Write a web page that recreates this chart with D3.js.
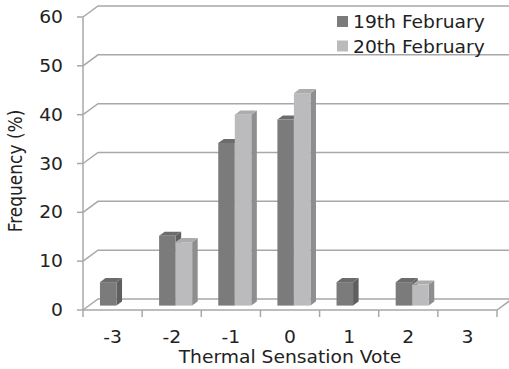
<!DOCTYPE html>
<html>
<head>
<meta charset="utf-8">
<script src="https://cdn.jsdelivr.net/npm/d3@7"></script>
<style>
  body { margin: 0; background: #fff; }
  text { font-family: "DejaVu Sans", Verdana, sans-serif; fill: #222; }
</style>
</head>
<body>
<div id="chart"></div>
<script>
var categories = ["-3", "-2", "-1", "0", "1", "2", "3"];
var seriesNames = ["19th February", "20th February"];
var feb19 = [4.8, 14.3, 33.3, 38.1, 4.8, 4.8, 0];
var feb20 = [0, 13.0, 39.1, 43.5, 0, 4.3, 0];
var yTicks = [0, 10, 20, 30, 40, 50, 60];

var width = 509,
    height = 369,
    depthX = 15,      // wall depth, projected
    depthY = 11,
    barZ0 = 0.4,      // bar front / back as share of the depth
    barZ1 = 0.77,
    stretch = 1.1;    // the picture's text is a bit wide

var colors = {
    "19th February": { front: "#7b7b7b", top: "#6c6c6c", side: "#5f5f5f" },
    "20th February": { front: "#bbbbbd", top: "#acacae", side: "#8e8e90" }
};

var svg = d3.select("#chart").append("svg")
    .attr("width", width)
    .attr("height", height);

var x = d3.scaleBand().domain(categories).range([83, 497]);
var xSub = d3.scaleBand().domain(seriesNames)
    .range([0, x.bandwidth()])
    .paddingInner(0)
    .paddingOuter(0.79)
    .align(0.42);
var y = d3.scaleLinear().domain([0, 60]).range([310, 17]);

var gridColor = "#a8a8a8";

// walls: gridlines run up the left wall and across the back wall
var grid = svg.append("g")
    .attr("stroke", gridColor)
    .attr("stroke-width", 1.5)
    .attr("fill", "none");

grid.selectAll("path.grid")
    .data(yTicks)
    .enter().append("path")
    .attr("class", "grid")
    .attr("d", function(v) {
        var x0 = x.range()[0], x1 = x.range()[1];
        return "M" + x0 + "," + y(v) +
            "L" + (x0 + depthX) + "," + (y(v) - depthY) +
            "L" + (x1 + depthX) + "," + (y(v) - depthY);
    });

// floor front and right edges
grid.append("path")
    .attr("d", "M" + x.range()[0] + "," + y(0) +
        "L" + x.range()[1] + "," + y(0) +
        "L" + (x.range()[1] + depthX) + "," + (y(0) - depthY));

// value axis
grid.append("line")
    .attr("x1", x.range()[0]).attr("x2", x.range()[0])
    .attr("y1", y(60)).attr("y2", y(0));

grid.selectAll("line.ytick")
    .data(yTicks)
    .enter().append("line")
    .attr("class", "ytick")
    .attr("x1", x.range()[0] - 6).attr("x2", x.range()[0])
    .attr("y1", function(v) { return y(v); })
    .attr("y2", function(v) { return y(v); });

var xTickPos = categories.map(function(c) { return x(c); }).concat([x.range()[1]]);
grid.selectAll("line.xtick")
    .data(xTickPos)
    .enter().append("line")
    .attr("class", "xtick")
    .attr("x1", function(d) { return d; }).attr("x2", function(d) { return d; })
    .attr("y1", y(0)).attr("y2", y(0) + 7);

// bars
var bars = [];
categories.forEach(function(c, i) {
    bars.push({ cat: c, name: seriesNames[0], value: feb19[i] });
    bars.push({ cat: c, name: seriesNames[1], value: feb20[i] });
});
bars = bars.filter(function(d) { return d.value > 0; });

var fx = depthX * barZ0, fy = depthY * barZ0;
var sx = depthX * (barZ1 - barZ0), sy = depthY * (barZ1 - barZ0);
var bw = xSub.bandwidth();

var barG = svg.append("g").selectAll("g")
    .data(bars)
    .enter().append("g");

barG.each(function(d) {
    var g = d3.select(this);
    var x0 = x(d.cat) + xSub(d.name) + fx;
    var yb = y(0) - fy;
    var yt = y(d.value) - fy;
    var col = colors[d.name];
    g.append("path")
        .attr("fill", col.side)
        .attr("d", "M" + (x0 + bw) + "," + yt + "L" + (x0 + bw + sx) + "," + (yt - sy) +
            "L" + (x0 + bw + sx) + "," + (yb - sy) + "L" + (x0 + bw) + "," + yb + "Z");
    g.append("path")
        .attr("fill", col.top)
        .attr("d", "M" + x0 + "," + yt + "L" + (x0 + bw) + "," + yt +
            "L" + (x0 + bw + sx) + "," + (yt - sy) + "L" + (x0 + sx) + "," + (yt - sy) + "Z");
    g.append("rect")
        .attr("fill", col.front)
        .attr("x", x0).attr("y", yt)
        .attr("width", bw).attr("height", yb - yt);
});

var fontSize = "17px";

// tick labels
svg.append("g").selectAll("text")
    .data(yTicks)
    .enter().append("text")
    .attr("transform", function(v) { return "translate(63," + y(v) + ") scale(" + stretch + ",1)"; })
    .attr("dy", "0.36em")
    .attr("text-anchor", "end")
    .style("font-size", fontSize)
    .text(function(v) { return v; });

svg.append("g").selectAll("text")
    .data(categories)
    .enter().append("text")
    .attr("transform", function(c) { return "translate(" + (x(c) + x.bandwidth() / 2) + ",343) scale(" + stretch + ",1)"; })
    .attr("text-anchor", "middle")
    .style("font-size", fontSize)
    .text(function(c) { return c; });

// axis titles
svg.append("text")
    .attr("transform", "translate(290,363) scale(" + stretch + ",1)")
    .attr("text-anchor", "middle")
    .style("font-size", fontSize)
    .text("Thermal Sensation Vote");

svg.append("text")
    .attr("transform", "translate(15,171) scale(" + stretch + ",1) rotate(-90)")
    .attr("dy", "0.36em")
    .attr("text-anchor", "middle")
    .style("font-size", fontSize)
    .text("Frequency (%)");

// legend
var legend = svg.append("g").selectAll("g")
    .data(seriesNames)
    .enter().append("g")
    .attr("transform", function(d, i) { return "translate(337," + (16 + i * 24.5) + ")"; });

legend.append("rect")
    .attr("width", 11).attr("height", 11)
    .attr("fill", function(d) { return colors[d].front; });

legend.append("text")
    .attr("transform", "translate(16,12) scale(" + stretch + ",1)")
    .style("font-size", fontSize)
    .text(function(d) { return d; });
</script>
</body>
</html>
